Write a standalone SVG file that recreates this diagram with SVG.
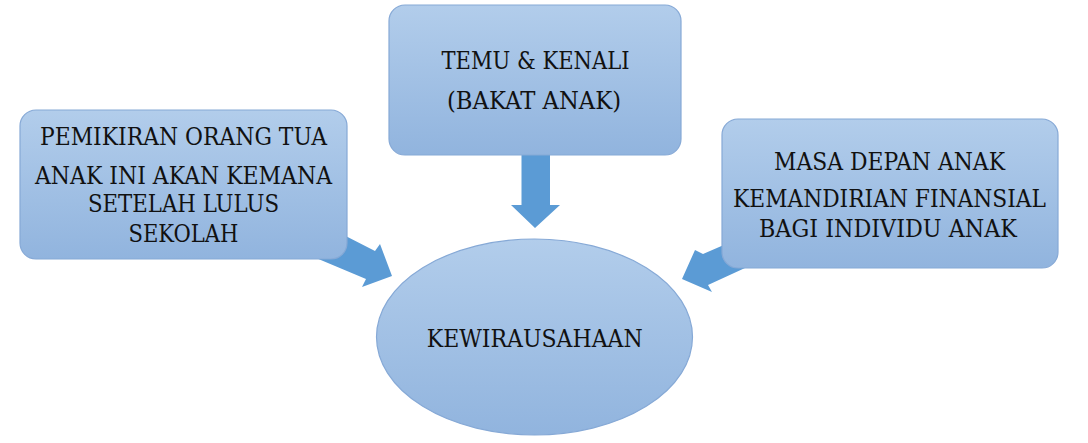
<svg xmlns="http://www.w3.org/2000/svg" width="1088" height="443" viewBox="0 0 1088 443">
<defs>
<linearGradient id="g" x1="0" y1="0" x2="0" y2="1">
<stop offset="0" stop-color="#b2cdeb"/>
<stop offset="1" stop-color="#91b4de"/>
</linearGradient>
<style>
.n{fill:url(#g);stroke:#86a9d6;stroke-width:1.2}
.a{fill:#5b9bd5;stroke:none}
text{font-family:"DejaVu Serif","Liberation Serif",serif;font-size:24px;fill:#111;text-anchor:middle}
</style>
</defs>
<rect width="1088" height="443" fill="#fff"/>
<g id="connectors">
<polygon class="a" points="330,228 375,251 380,244 392,276 362,287 366,279 316,258"/>
<polygon class="a" points="521.5,150 550,150 550,205 560,205 535,228 511,205 521.5,205"/>
<polygon class="a" points="740,238 703,254 695,250 682,279 712,292 708,285 745,268"/>
</g>
<g id="node-left">
<rect class="n" x="20" y="110" width="327" height="149" rx="16"/>
<text x="183.5" y="145" textLength="287" lengthAdjust="spacingAndGlyphs">PEMIKIRAN ORANG TUA</text>
<text x="183.5" y="184" textLength="297" lengthAdjust="spacingAndGlyphs">ANAK INI AKAN KEMANA</text>
<text x="183.5" y="212" textLength="191" lengthAdjust="spacingAndGlyphs">SETELAH LULUS</text>
<text x="183.5" y="242" textLength="110" lengthAdjust="spacingAndGlyphs">SEKOLAH</text>
</g>
<g id="node-top">
<rect class="n" x="389" y="5" width="292" height="150" rx="16"/>
<text x="535.5" y="68.5" textLength="188" lengthAdjust="spacingAndGlyphs">TEMU &amp; KENALI</text>
<text x="534" y="108.5" textLength="174" lengthAdjust="spacingAndGlyphs">(BAKAT ANAK)</text>
</g>
<g id="node-right">
<rect class="n" x="722" y="119" width="336" height="149" rx="16"/>
<text x="889.5" y="170" textLength="231" lengthAdjust="spacingAndGlyphs">MASA DEPAN ANAK</text>
<text x="889.5" y="206.5" textLength="313" lengthAdjust="spacingAndGlyphs">KEMANDIRIAN FINANSIAL</text>
<text x="888" y="236.5" textLength="258" lengthAdjust="spacingAndGlyphs">BAGI INDIVIDU ANAK</text>
</g>
<g id="node-center">
<ellipse class="n" cx="534.5" cy="337" rx="158" ry="98"/>
<text x="534.7" y="346.5" textLength="216" lengthAdjust="spacingAndGlyphs">KEWIRAUSAHAAN</text>
</g>
</svg>
